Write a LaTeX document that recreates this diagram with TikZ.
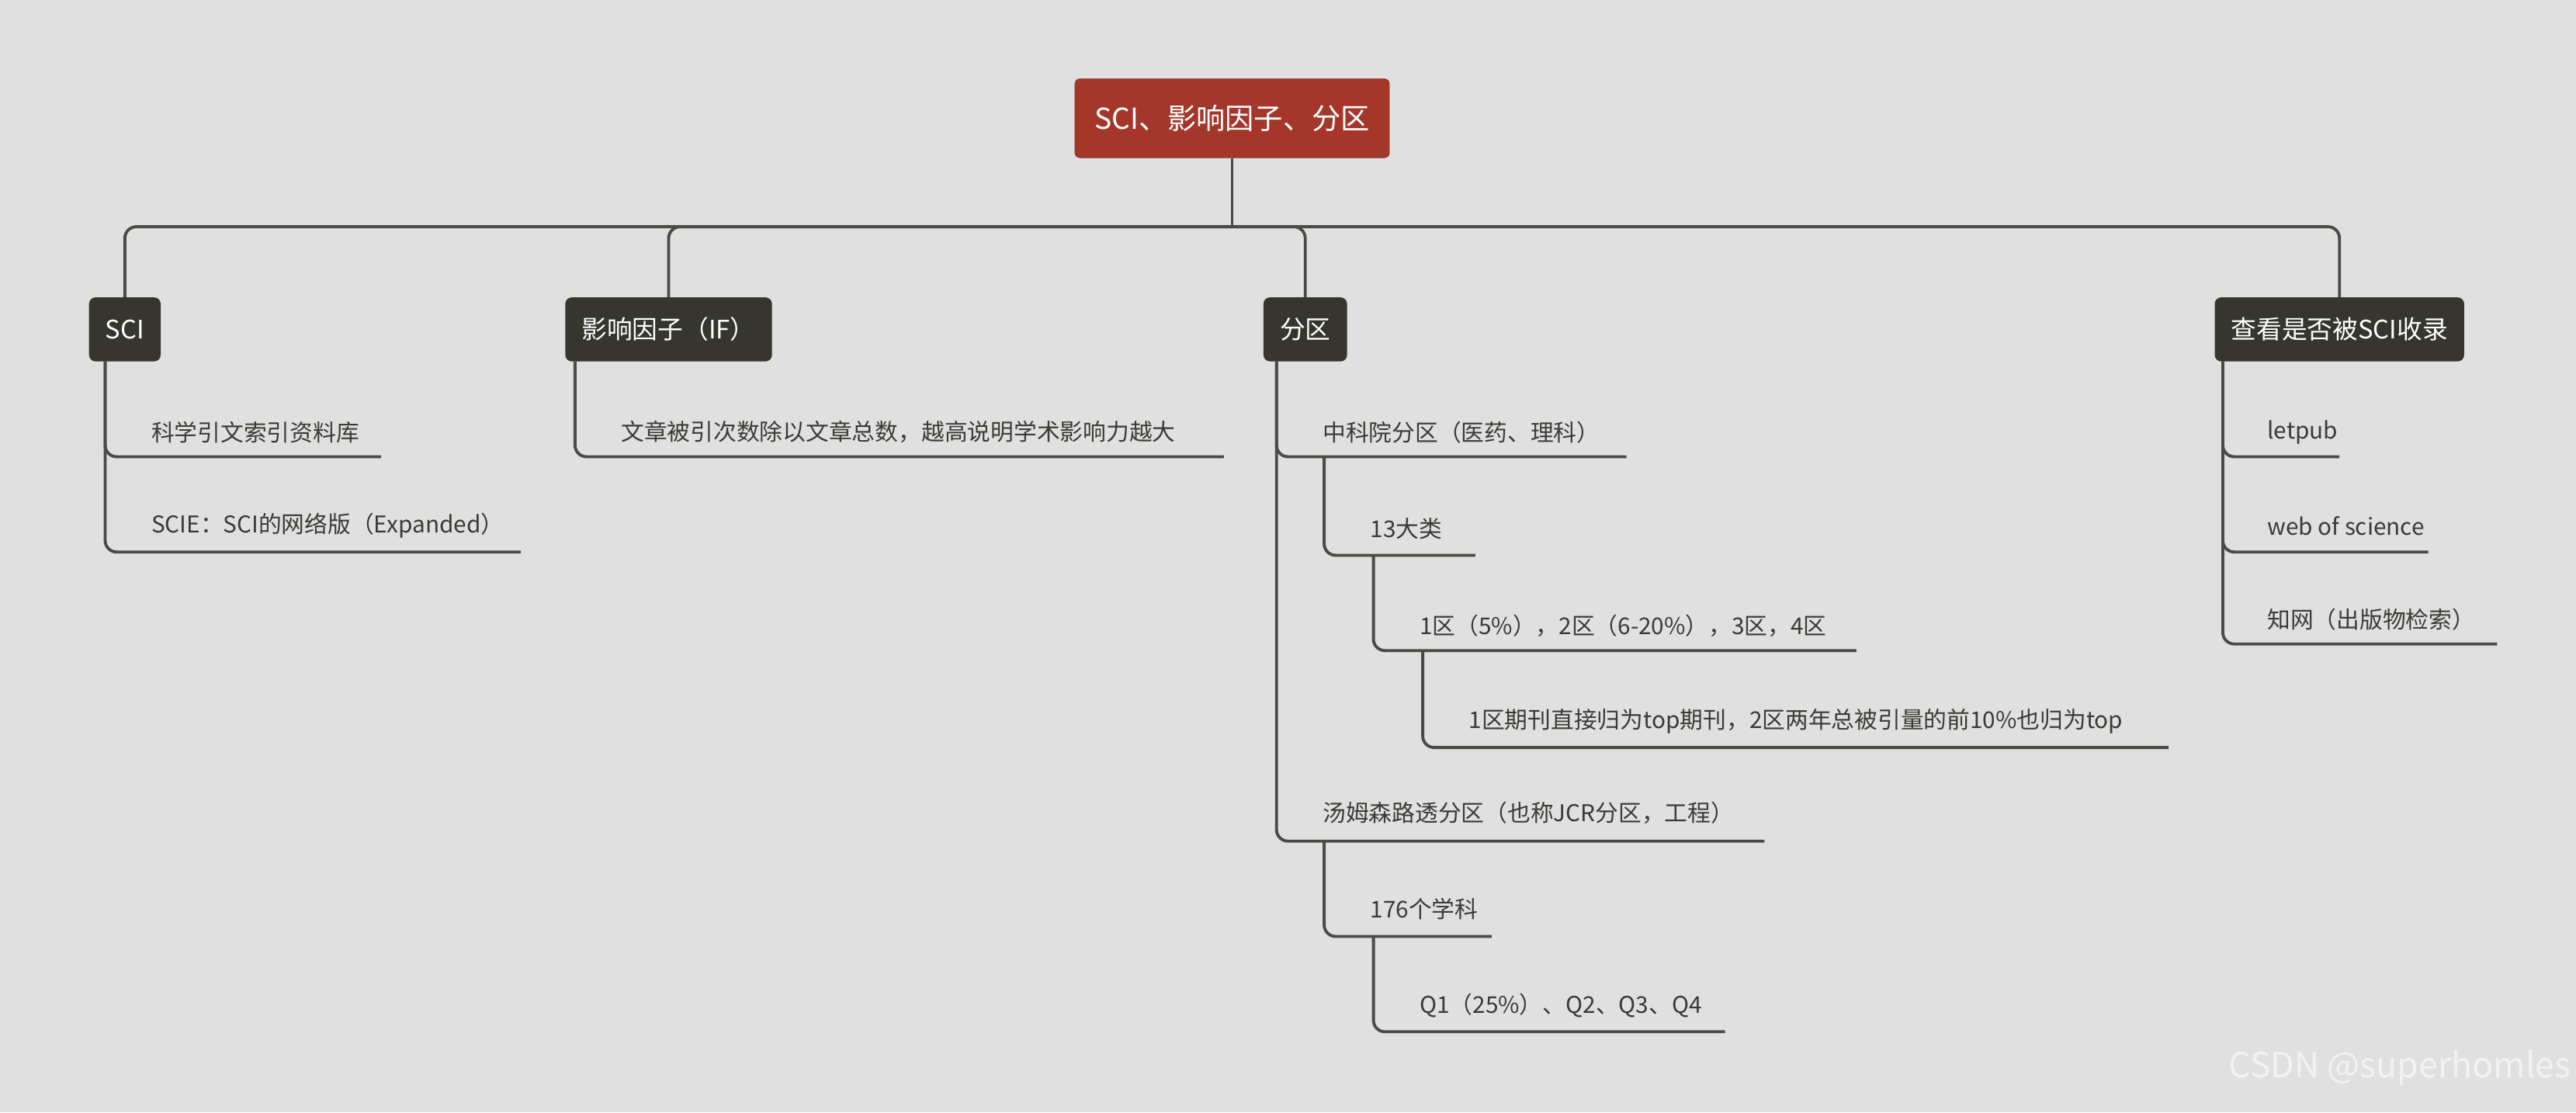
\documentclass[tikz,border=0pt]{standalone}
\usepackage{fontspec}
\setmainfont{Noto Sans CJK SC}
\definecolor{bg}{HTML}{E0E0E0}
\definecolor{rootc}{HTML}{A5372A}
\definecolor{boxc}{HTML}{36362F}
\definecolor{linec}{HTML}{4A4A46}
\definecolor{txt}{HTML}{3A3A36}
\begin{document}
\begin{tikzpicture}[x=0.05cm,y=-0.05cm,
  conn/.style={draw=linec,line width=2.6pt,rounded corners=0.35cm},
  rootbox/.style={fill=rootc,draw=rootc!80!black,rounded corners=0.15cm,text=white,font=\fontsize{25}{30}\selectfont,minimum height=2.4cm,inner xsep=0.6cm},
  mainbox/.style={fill=boxc,rounded corners=0.2cm,text=white,font=\fontsize{22}{26}\selectfont,minimum height=1.95cm,inner xsep=0.5cm},
  leaf/.style={anchor=west,text=txt,font=\fontsize{20}{24}\selectfont,inner sep=0pt}]
\fill[bg] (0,0) rectangle (1568,677);
\node[rootbox] (root) at (750,72) {SCI、影响因子、分区};
\node[mainbox] (sci) at (76,200.5) {SCI};
\node[mainbox] (if) at (407,200.5) {影响因子（IF）};
\node[mainbox] (fq) at (794.5,200.5) {分区};
\node[mainbox] (ck) at (1424,200.5) {查看是否被SCI收录};
\coordinate (hub) at (750,138);
\draw[conn] (root.south) -- (hub);
\draw[conn] (sci.north) |- (hub) -| (ck.north);
\draw[conn] (if.north) |- (hub);
\draw[conn] (fq.north) |- (hub);
% leaves
\node[leaf] (a1) at (92,263) {科学引文索引资料库};
\node[leaf] (a2) at (92,320) {SCIE：SCI的网络版（Expanded）};
\draw[conn] (64,220) |- (232,278);
\draw[conn] (64,220) |- (317,336);
\node[leaf] (b1) at (378,263) {文章被引次数除以文章总数，越高说明学术影响力越大};
\draw[conn] (350,220) |- (745,278);
\node[leaf] (c1) at (805,263) {中科院分区（医药、理科）};
\node[leaf] (c2) at (834,322) {13大类};
\node[leaf] (c3) at (864,381) {1区（5\%），2区（6-20\%），3区，4区};
\node[leaf] (c4) at (894,439) {1区期刊直接归为top期刊，2区两年总被引量的前10\%也归为top};
\node[leaf] (d1) at (805,495) {汤姆森路透分区（也称JCR分区，工程）};
\node[leaf] (d2) at (834,553) {176个学科};
\node[leaf] (d3) at (864,612) {Q1（25\%）、Q2、Q3、Q4};
\draw[conn] (777,220) |- (990,278);
\draw[conn] (777,220) |- (1074,512);
\draw[conn] (806,278) |- (898,338);
\draw[conn] (836,338) |- (1130,396);
\draw[conn] (866,396) |- (1320,455);
\draw[conn] (806,512) |- (908,570);
\draw[conn] (836,570) |- (1050,628);
\node[leaf] (e1) at (1380,263) {letpub};
\node[leaf] (e2) at (1380,320) {web of science};
\node[leaf] (e3) at (1380,377) {知网（出版物检索）};
\draw[conn] (1353,220) |- (1424,278);
\draw[conn] (1353,220) |- (1478,336);
\draw[conn] (1353,220) |- (1520,392);
\node[anchor=east,text=white!90!gray,font=\fontsize{30}{34}\selectfont,inner sep=0pt] (wm) at (1565,650) {CSDN @superhomles};
\end{tikzpicture}
\end{document}
